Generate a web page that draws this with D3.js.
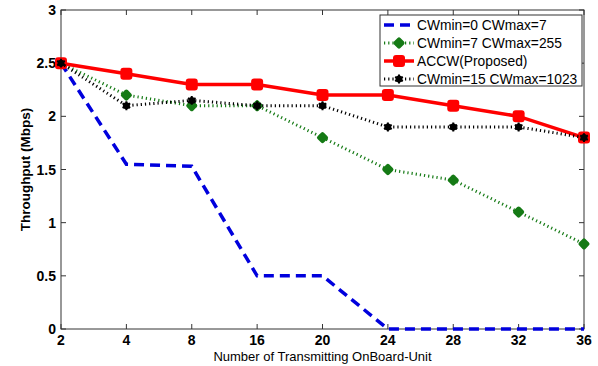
<!DOCTYPE html>
<html>
<head>
<meta charset="utf-8">
<title>Throughput</title>
<script src="https://cdnjs.cloudflare.com/ajax/libs/d3/7.8.5/d3.min.js"></script>
<style>
  body { margin: 0; background: #fff; }
  text { font-family: "Liberation Sans", Arial, sans-serif; }
</style>
</head>
<body>
<svg width="598" height="366"></svg>
<script>
// categories (x axis, equally spaced)
const nodes = ["2", "4", "8", "16", "20", "24", "28", "32", "36"];
const yTicks = [0, 0.5, 1, 1.5, 2, 2.5, 3];

// series values
const cw0 = [2.5, 1.55, 1.53, 0.5, 0.5, 0, 0, 0, 0];
const cw7 = [2.5, 2.2, 2.1, 2.1, 1.8, 1.5, 1.4, 1.1, 0.8];
const accw = [2.5, 2.4, 2.3, 2.3, 2.2, 2.2, 2.1, 2.0, 1.8];
const cw15 = [2.5, 2.1, 2.15, 2.1, 2.1, 1.9, 1.9, 1.9, 1.8];

const names = ["CWmin=0 CWmax=7", "CWmin=7 CWmax=255", "ACCW(Proposed)", "CWmin=15 CWmax=1023"];

const m = {left: 61, right: 14, top: 10, bottom: 37};
const W = 598, H = 366;

const svg = d3.select("svg");

const x = d3.scalePoint().domain(nodes).range([m.left, W - m.right]);
const y = d3.scaleLinear().domain([0, 3]).range([H - m.bottom, m.top]);

// box + ticks (matlab style, ticks inside)
const g = svg.append("g");
g.append("rect")
  .attr("x", m.left).attr("y", m.top)
  .attr("width", W - m.right - m.left).attr("height", H - m.bottom - m.top)
  .attr("fill", "none").attr("stroke", "#333").attr("stroke-width", 1);

const tickLen = 5;
nodes.forEach(function(n) {
  g.append("line").attr("x1", x(n)).attr("x2", x(n))
    .attr("y1", H - m.bottom).attr("y2", H - m.bottom - tickLen).attr("stroke", "#333");
  g.append("line").attr("x1", x(n)).attr("x2", x(n))
    .attr("y1", m.top).attr("y2", m.top + tickLen).attr("stroke", "#333");
});
yTicks.forEach(function(t) {
  g.append("line").attr("x1", m.left).attr("x2", m.left + tickLen)
    .attr("y1", y(t)).attr("y2", y(t)).attr("stroke", "#333");
  g.append("line").attr("x1", W - m.right).attr("x2", W - m.right - tickLen)
    .attr("y1", y(t)).attr("y2", y(t)).attr("stroke", "#333");
});

// tick labels
g.selectAll(".xl").data(nodes).enter().append("text")
  .attr("x", d => x(d)).attr("y", H - m.bottom + 16)
  .attr("text-anchor", "middle").attr("font-size", 14).attr("font-weight", "bold")
  .text(d => d);
g.selectAll(".yl").data(yTicks).enter().append("text")
  .attr("x", m.left - 5).attr("y", d => y(d) + 5)
  .attr("text-anchor", "end").attr("font-size", 14).attr("font-weight", "bold")
  .text(d => d);

// axis titles
svg.append("text")
  .attr("x", (m.left + W - m.right) / 2).attr("y", H - 5)
  .attr("text-anchor", "middle").attr("font-size", 13)
  .text("Number of Transmitting OnBoard-Unit");
svg.append("text")
  .attr("transform", "translate(30," + ((m.top + H - m.bottom) / 2) + ") rotate(-90)")
  .attr("text-anchor", "middle").attr("font-size", 13.5).attr("font-weight", "bold")
  .text("Throughput (Mbps)");

const line = d3.line().x((d, i) => x(nodes[i])).y(d => y(d));

const series = [
  {vals: cw0, color: "#0000dd", width: 3.5, dash: "10,6", marker: null},
  {vals: cw7, color: "#157a15", width: 3, dash: "1.2,3", marker: "diamond"},
  {vals: accw, color: "#ff0000", width: 3.5, dash: null, marker: "square"},
  {vals: cw15, color: "#000000", width: 3, dash: "1.2,3", marker: "star"}
];

function drawMarker(sel, s, cx, cy) {
  if (s.marker === "square") {
    sel.append("rect").attr("x", cx - 6).attr("y", cy - 6).attr("width", 12).attr("height", 12)
      .attr("rx", 3).attr("fill", s.color);
  } else if (s.marker === "diamond") {
    sel.append("rect").attr("x", -4.5).attr("y", -4.5).attr("width", 9).attr("height", 9)
      .attr("rx", 2).attr("fill", s.color)
      .attr("transform", "translate(" + cx + "," + cy + ") rotate(45)");
  } else if (s.marker === "star") {
    sel.append("circle").attr("cx", cx).attr("cy", cy).attr("r", 3.5).attr("fill", s.color);
    sel.append("path").attr("transform", "translate(" + cx + "," + cy + ")")
      .attr("d", d3.symbol().type(d3.symbolAsterisk).size(55)())
      .attr("stroke", s.color).attr("stroke-width", 2).attr("fill", "none");
  }
}

const plot = svg.append("g");
series.forEach(function(s) {
  plot.append("path").datum(s.vals)
    .attr("d", line).attr("fill", "none")
    .attr("stroke", s.color).attr("stroke-width", s.width)
    .attr("stroke-dasharray", s.dash);
  s.vals.forEach(function(v, i) { drawMarker(plot, s, x(nodes[i]), y(v)); });
});

// legend
const lg = svg.append("g");
lg.append("rect").attr("x", 380).attr("y", 15).attr("width", 202).attr("height", 71)
  .attr("fill", "#fff").attr("stroke", "#333").attr("stroke-width", 1);
series.forEach(function(s, i) {
  const ly = 25 + i * 18;
  lg.append("line").attr("x1", 384).attr("x2", 414).attr("y1", ly).attr("y2", ly)
    .attr("stroke", s.color).attr("stroke-width", s.width).attr("stroke-dasharray", s.dash);
  drawMarker(lg, s, 399, ly);
  lg.append("text").attr("x", 417).attr("y", ly + 5).attr("font-size", 13.8).text(names[i]);
});
</script>
</body>
</html>
